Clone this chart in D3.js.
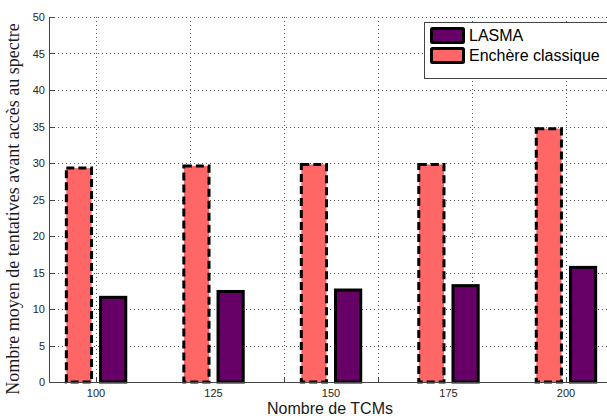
<!DOCTYPE html>
<html><head><meta charset="utf-8">
<script src="https://cdn.jsdelivr.net/npm/d3@7"></script>
<style>body{margin:0;background:#fff}svg{display:block}</style>
</head><body><svg id="c" width="607" height="416"></svg>
<script>
const categories = [100, 125, 150, 175, 200];
const lasma = [11.6, 12.4, 12.6, 13.2, 15.7];
const enchere = [29.3, 29.6, 29.8, 29.8, 34.7];
const yTicks = [0, 5, 10, 15, 20, 25, 30, 35, 40, 45, 50];
const xGrid = [100, 120, 140, 160, 180, 200];
const seriesNames = ["LASMA", "Enchère classique"];

const svg = d3.select("#c");
const x = d3.scaleLinear().domain([90.2, 211.5]).range([50, 620]);
const y = d3.scaleLinear().domain([0, 50]).range([382, 17]);
const barW = 6.0, half = 0.64;

const grid = svg.append("g").attr("stroke", "#555").attr("stroke-width", 1).attr("stroke-dasharray", "1,3");
grid.selectAll(".h").data(yTicks).join("line")
  .attr("x1", 50).attr("x2", 607).attr("y1", d => Math.round(y(d)) + 0.5).attr("y2", d => Math.round(y(d)) + 0.5);
grid.selectAll(".v").data(xGrid).join("line")
  .attr("x1", d => Math.round(x(d)) + 0.5).attr("x2", d => Math.round(x(d)) + 0.5).attr("y1", y(50)).attr("y2", y(0));

// inward tick marks
const ticks = svg.append("g").attr("stroke", "#444").attr("stroke-width", 1);
ticks.selectAll(".yt").data(yTicks).join("line")
  .attr("x1", 50).attr("x2", 55).attr("y1", d => Math.round(y(d)) + 0.5).attr("y2", d => Math.round(y(d)) + 0.5);
ticks.selectAll(".xt").data(xGrid).join("line")
  .attr("x1", d => Math.round(x(d)) + 0.5).attr("x2", d => Math.round(x(d)) + 0.5).attr("y1", y(0)).attr("y2", y(0) - 5);

// bars
svg.append("g").selectAll("rect").data(categories).join("rect")
  .attr("x", (d) => x(d - half - barW) + 1.5)
  .attr("width", x(barW) - x(0) - 3)
  .attr("y", (d, i) => y(enchere[i]))
  .attr("height", (d, i) => y(0) - y(enchere[i]))
  .attr("fill", "#ff6666").attr("stroke", "#000").attr("stroke-width", 3).attr("stroke-dasharray", "8,4");
svg.append("g").selectAll("rect").data(categories).join("rect")
  .attr("x", (d) => x(d + half) + 1.5)
  .attr("width", x(barW) - x(0) - 3)
  .attr("y", (d, i) => y(lasma[i]))
  .attr("height", (d, i) => y(0) - y(lasma[i]))
  .attr("fill", "#660066").attr("stroke", "#000").attr("stroke-width", 3);

// axes lines
svg.append("line").attr("x1", 49.5).attr("x2", 49.5).attr("y1", 17).attr("y2", 382.5).attr("stroke", "#444");
svg.append("line").attr("x1", 49.5).attr("x2", 607).attr("y1", 382.5).attr("y2", 382.5).attr("stroke", "#444");

// tick labels
svg.append("g").selectAll("text").data(yTicks).join("text")
  .attr("x", 45).attr("y", d => y(d) + 4).attr("text-anchor", "end")
  .attr("font-family", "Liberation Sans, Arial, sans-serif").attr("font-size", 11).attr("fill", "#262626")
  .text(d => d);
svg.append("g").selectAll("text").data(categories).join("text")
  .attr("x", d => x(d)).attr("y", 397).attr("text-anchor", "middle")
  .attr("font-family", "Liberation Sans, Arial, sans-serif").attr("font-size", 11).attr("fill", "#262626")
  .text(d => d);

// axis titles
svg.append("text").attr("x", 330).attr("y", 414).attr("text-anchor", "middle")
  .attr("font-family", "Liberation Sans, Arial, sans-serif").attr("font-size", 16).attr("fill", "#1a1a1a")
  .text("Nombre de TCMs");
svg.append("text").attr("transform", "translate(19,209) rotate(-90)").attr("text-anchor", "middle")
  .attr("font-family", "Liberation Serif, Times New Roman, serif").attr("font-size", 18).attr("fill", "#1a1a1a")
  .text("Nombre moyen de tentatives avant accès au spectre");

// legend
const lg = svg.append("g");
lg.append("rect").attr("x", 424.5).attr("y", 22.5).attr("width", 200).attr("height", 56)
  .attr("fill", "#fff").attr("stroke", "#444").attr("stroke-width", 1);
const fills = ["#660066", "#ff6666"];
seriesNames.forEach((n, i) => {
  lg.append("rect").attr("x", 431.5).attr("y", 28.5 + i * 20).attr("width", 32).attr("height", 14)
    .attr("fill", fills[i]).attr("stroke", "#000").attr("stroke-width", 3).attr("rx", 1);
  lg.append("text").attr("x", 469).attr("y", 41 + i * 20)
    .attr("font-family", "Liberation Sans, Arial, sans-serif").attr("font-size", 16).attr("fill", "#000")
    .text(n);
});
</script></body></html>
